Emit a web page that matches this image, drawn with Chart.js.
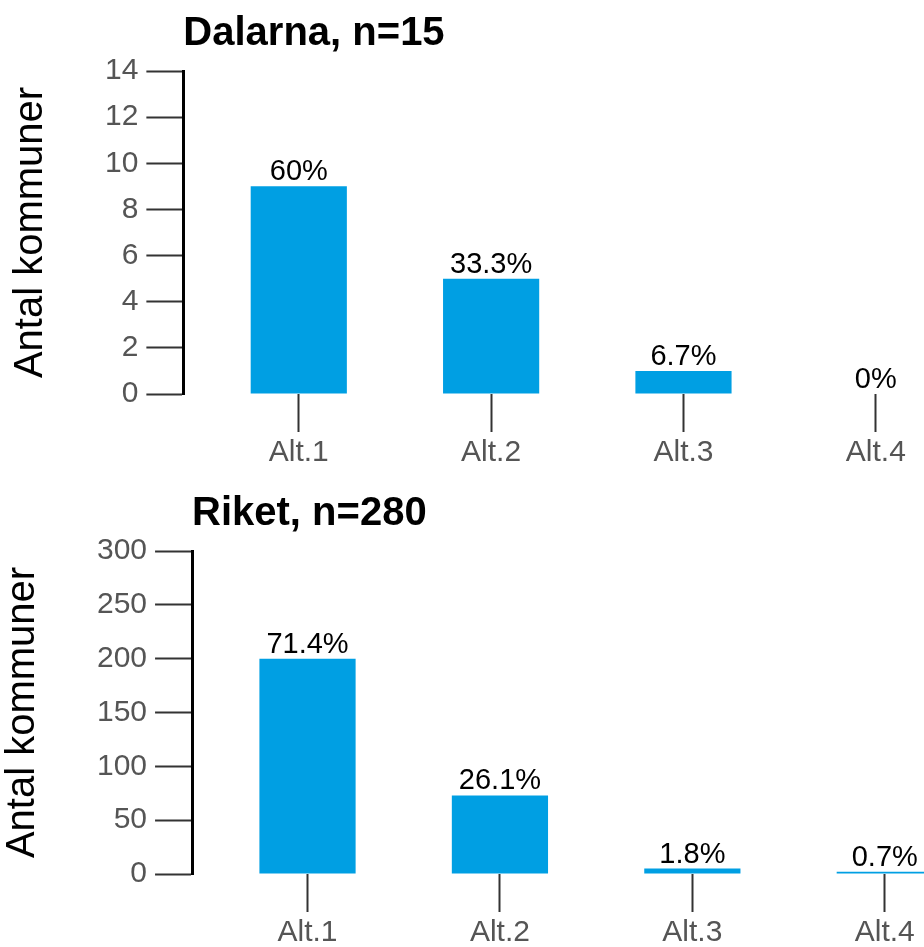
<!DOCTYPE html>
<html lang="sv">
<head>
<meta charset="utf-8">
<title>Antal kommuner</title>
<script src="https://cdn.jsdelivr.net/npm/chart.js@4.4.1/dist/chart.umd.min.js"></script>
<style>
  html, body { margin: 0; padding: 0; background: #fff; overflow: hidden; }
  body { width: 924px; height: 947px; position: relative; }
  canvas { position: absolute; left: 0; }
  #dalarnaChart { top: 0; }
  #riketChart { top: 480px; }
</style>
</head>
<body>
<canvas id="dalarnaChart" width="972" height="480"></canvas>
<canvas id="riketChart" width="981" height="480"></canvas>
<script>
const categories = ['Alt.1', 'Alt.2', 'Alt.3', 'Alt.4'];

// antal kommuner per alternativ
const dalarnaCounts = [9, 5, 1, 0];
const riketCounts = [200, 73, 5, 2];

const dalarnaTotal = 15;
const riketTotal = 280;

const dalarnaTicks = [0, 2, 4, 6, 8, 10, 12, 14];
const riketTicks = [0, 50, 100, 150, 200, 250, 300];

const FONT = '"Liberation Sans", Arial, sans-serif';

// procentetikett ovanför varje stapel
const percentLabels = {
  id: 'percentLabels',
  afterDatasetsDraw(chart, args, opts) {
    const ctx = chart.ctx;
    const meta = chart.getDatasetMeta(0);
    const data = chart.data.datasets[0].data;
    ctx.save();
    ctx.font = '29px ' + FONT;
    ctx.fillStyle = '#000';
    ctx.textAlign = 'center';
    ctx.textBaseline = 'alphabetic';
    meta.data.forEach((bar, i) => {
      const pct = +(data[i].y / opts.total * 100).toFixed(1);
      ctx.fillText(pct + '%', bar.x, bar.y - 6);
    });
    ctx.restore();
  }
};

function makeChart(id, title, counts, total, yTicks, yTitlePad) {
  const ctx = document.getElementById(id).getContext('2d');
  return new Chart(ctx, {
    type: 'bar',
    data: {
      datasets: [{
        data: counts.map((v, i) => ({ x: i, y: v })),
        backgroundColor: '#009fe3',
        borderWidth: 0,
        barPercentage: 0.5,
        categoryPercentage: 1
      }]
    },
    plugins: [percentLabels],
    options: {
      responsive: false,
      animation: false,
      layout: { padding: { left: 0, right: 0, top: 0, bottom: 6 } },
      scales: {
        x: {
          type: 'linear',
          min: -0.6,
          max: 3.5,
          offset: false,
          afterBuildTicks: (scale) => {
            scale.ticks = categories.map((c, i) => ({ value: i }));
          },
          ticks: {
            autoSkip: false,
            maxRotation: 0,
            padding: 3,
            color: '#555',
            font: { family: FONT, size: 30 },
            callback: (v) => categories[v]
          },
          grid: {
            offset: false,
            drawOnChartArea: false,
            drawTicks: true,
            tickLength: 38,
            tickColor: '#333',
            tickWidth: 2
          },
          border: { display: false }
        },
        y: {
          min: yTicks[0],
          max: yTicks[yTicks.length - 1],
          afterBuildTicks: (scale) => {
            scale.ticks = yTicks.map(v => ({ value: v }));
          },
          ticks: {
            padding: 8,
            color: '#555',
            font: { family: FONT, size: 30 }
          },
          grid: {
            drawOnChartArea: false,
            drawTicks: true,
            tickLength: 37,
            tickColor: '#333',
            tickWidth: 2
          },
          border: { display: true, color: '#000', width: 3 },
          title: {
            display: true,
            text: 'Antal kommuner',
            color: '#000',
            font: { family: FONT, size: 40 },
            padding: yTitlePad
          }
        }
      },
      plugins: {
        legend: { display: false },
        tooltip: { enabled: false },
        title: {
          display: true,
          text: title,
          align: 'start',
          fullSize: false,
          color: '#000',
          font: { family: FONT, size: 40, weight: 'bold' },
          padding: { top: 10, bottom: 13 }
        },
        percentLabels: { total: total }
      }
    }
  });
}

makeChart('dalarnaChart', 'Dalarna, n=' + dalarnaTotal, dalarnaCounts, dalarnaTotal, dalarnaTicks, { top: 7, bottom: 42 });
makeChart('riketChart', 'Riket, n=' + riketTotal, riketCounts, riketTotal, riketTicks, { top: -1, bottom: 42 });
</script>
</body>
</html>
